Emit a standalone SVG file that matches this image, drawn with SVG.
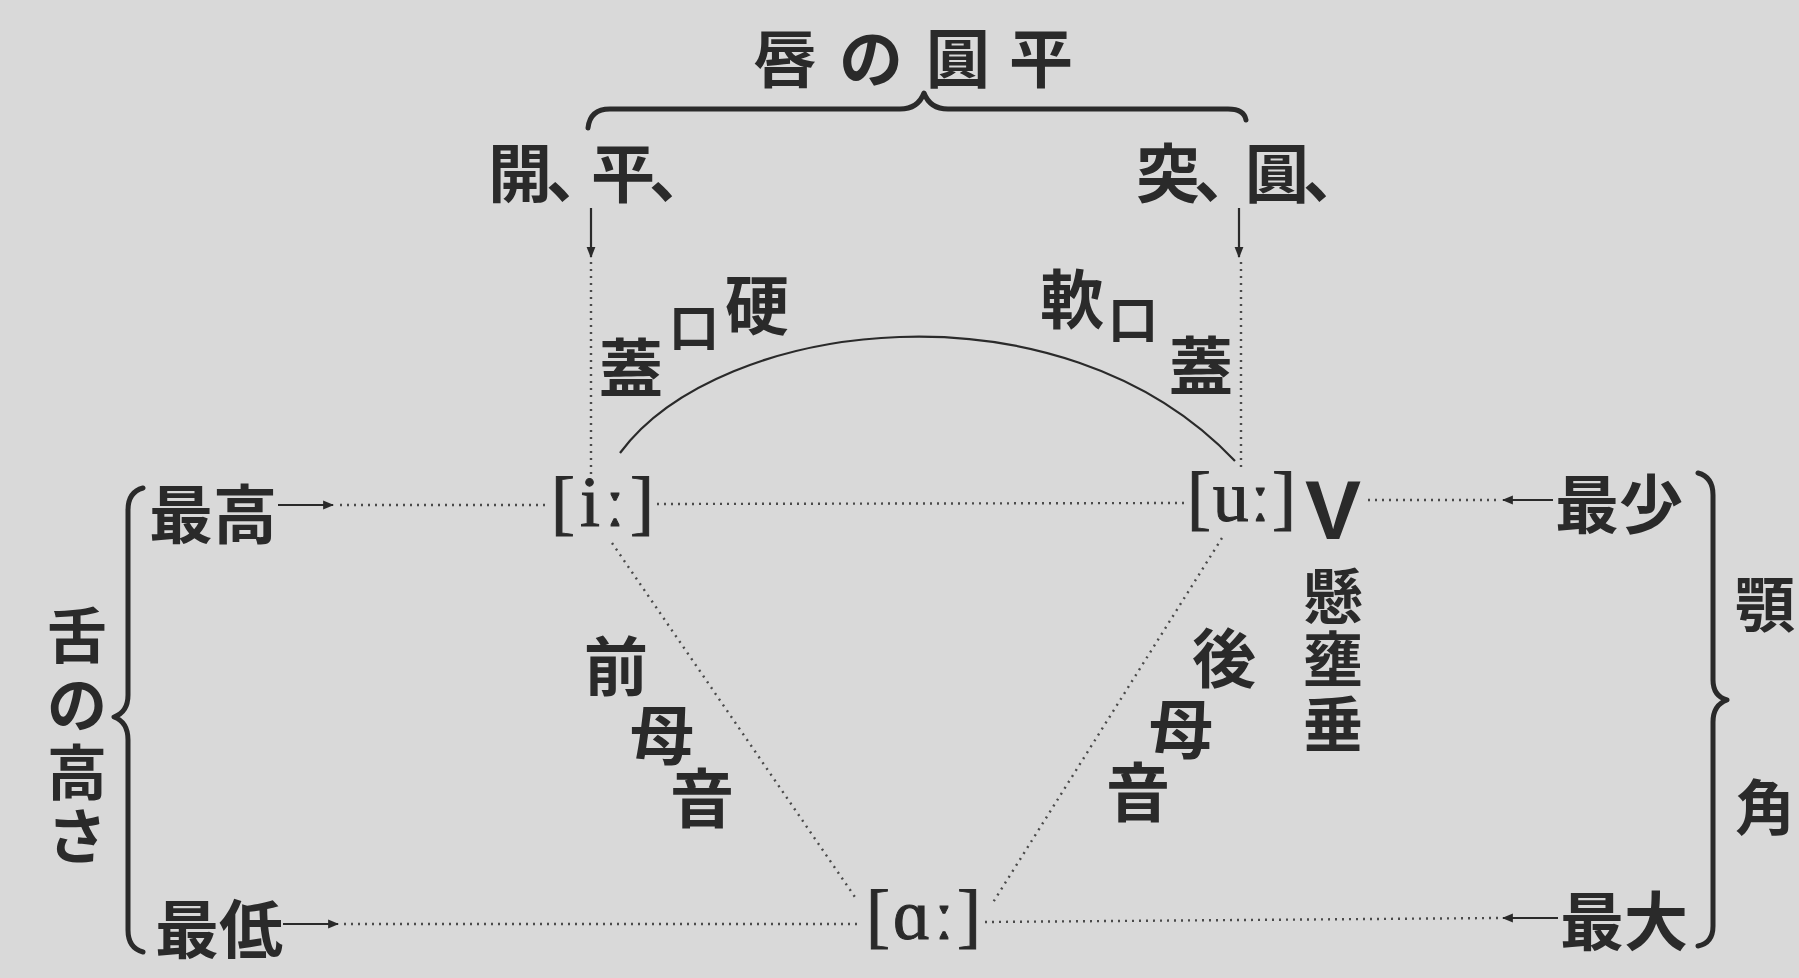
<svg xmlns="http://www.w3.org/2000/svg" width="1799" height="978" viewBox="0 0 1799 978">
<style>
.jp{font-family:"Noto Sans CJK JP","Noto Sans CJK SC",sans-serif;font-size:64px;font-weight:bold;fill:#2a2a2a;dominant-baseline:central}
.vt{font-size:60px}
.sm{font-size:50px}
.lat{font-family:"Liberation Sans",Arial,sans-serif;font-size:84px}
.ipa{font-family:"Liberation Serif","DejaVu Serif",serif;font-size:72px;fill:#2a2a2a;stroke:#2a2a2a;stroke-width:1}
.dot{fill:none;stroke:#4a4a4a;stroke-width:2.4;stroke-dasharray:2 5}
.ln{fill:none;stroke:#2a2a2a;stroke-width:2.2}
.brace{fill:none;stroke:#2a2a2a;stroke-width:5;stroke-linecap:round;stroke-linejoin:round}
</style>
<defs>
<marker id="ah" viewBox="0 0 10 10" refX="9" refY="5" markerWidth="5" markerHeight="5" orient="auto" markerUnits="strokeWidth">
<path d="M0,1 L10,5 L0,9 Z" fill="#2a2a2a"/>
</marker>
</defs>
<rect x="0" y="0" width="1799" height="978" fill="#d9d9d9"/>

<g id="title">
<text class="jp" x="785 871 958 1041" y="54" text-anchor="middle">唇の圓平</text>
<path class="brace" d="M588,128 Q590,109 610,109 L900,109 Q918,109 924,93 Q930,109 948,109 L1228,109 Q1244,109 1246,120"/>
</g>

<g id="lip-spread">
<text class="jp" x="488 546 591 649" y="169">開、平、</text>
</g>
<g id="lip-round">
<text class="jp" x="1136 1194 1245 1303" y="169">突、圓、</text>
</g>

<g id="hard-palate">
<text class="jp" text-anchor="middle"><tspan x="757" y="301">硬</tspan><tspan class="sm" x="694" y="324">口</tspan><tspan x="631" y="364">蓋</tspan></text>
</g>
<g id="soft-palate">
<text class="jp" text-anchor="middle"><tspan x="1072" y="295">軟</tspan><tspan class="sm" x="1133" y="316">口</tspan><tspan x="1201" y="362">蓋</tspan></text>
</g>

<g id="vowel-i">
<text class="ipa" x="551" y="526" textLength="103" lengthAdjust="spacing">[iː]</text>
</g>
<g id="vowel-u">
<text class="ipa" x="1187" y="521" textLength="109" lengthAdjust="spacing">[uː]</text>
</g>
<g id="vowel-a">
<text class="ipa" x="866" y="939" textLength="115" lengthAdjust="spacing">[ɑː]</text>
</g>

<g id="uvula">
<text class="jp vt" text-anchor="middle"><tspan class="lat" x="1333" y="510">V</tspan><tspan x="1333 1333 1333" y="592 655 720">懸壅垂</tspan></text>
</g>

<g id="front-vowels">
<text class="jp" x="616 662 702" y="662 731 794" text-anchor="middle">前母音</text>
</g>
<g id="back-vowels">
<text class="jp" x="1224 1181 1138" y="654 725 788" text-anchor="middle">後母音</text>
</g>

<g id="tongue-height">
<text class="jp" x="149" y="510">最高</text>
<text class="jp" x="155" y="925">最低</text>
<path class="brace" d="M143,488 Q128,492 128,510 L128,695 Q128,712 114,717 Q128,722 128,740 L128,930 Q128,948 143,952"/>
<text class="jp vt" x="77 77 77 77" y="631 700 768 832" text-anchor="middle">舌の高さ</text>
</g>

<g id="jaw-angle">
<text class="jp" x="1555" y="500">最少</text>
<text class="jp" x="1560" y="917">最大</text>
<path class="brace" d="M1698,473 Q1713,477 1713,495 L1713,680 Q1713,696 1727,700 Q1713,705 1713,722 L1713,926 Q1713,943 1698,946"/>
<text class="jp vt" x="1765 1765" y="600 803" text-anchor="middle">顎角</text>
</g>

<g id="connectors">
<path class="ln" d="M591,208 L591,257" marker-end="url(#ah)"/>
<path class="ln" d="M1239,208 L1239,257" marker-end="url(#ah)"/>
<path class="ln" d="M278,505 L333,505" marker-end="url(#ah)"/>
<path class="ln" d="M283,924 L338,924" marker-end="url(#ah)"/>
<path class="ln" d="M1553,500 L1503,500" marker-end="url(#ah)"/>
<path class="ln" d="M1558,918 L1503,918" marker-end="url(#ah)"/>
<path class="dot" d="M591,262 L591,478"/>
<path class="dot" d="M1241,262 L1241,470"/>
<path class="dot" d="M340,505 L548,505"/>
<path class="dot" d="M657,504 L1185,503"/>
<path class="dot" d="M1368,500 L1498,500"/>
<path class="dot" d="M344,924 L862,924"/>
<path class="dot" d="M985,922 L1498,918"/>
<path class="dot" d="M612,543 L857,900"/>
<path class="dot" d="M1222,538 L992,904"/>
<path class="ln" stroke-width="3" d="M620,453 C720,318 1060,276 1235,461"/>
</g>
</svg>
